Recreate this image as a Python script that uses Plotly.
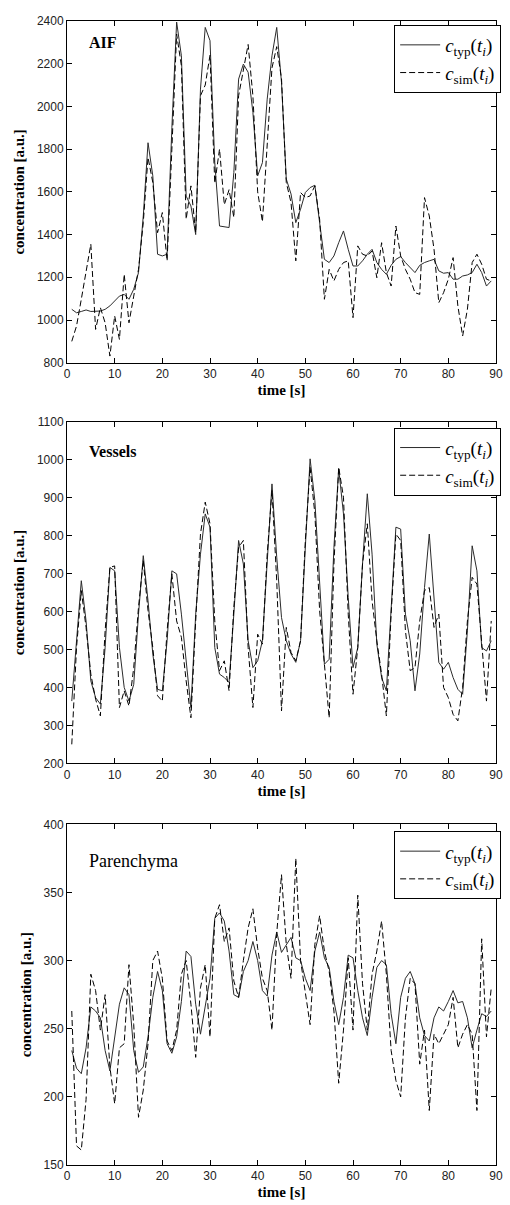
import plotly.graph_objs as go

# time axis [s]
t = list(range(1, 90))

# AIF
aif_typ = [1050, 1034, 1040, 1047, 1040, 1040, 1042, 1050, 1066, 1089,
           1112, 1120, 1097, 1144, 1222, 1487, 1830, 1675, 1308, 1300,
           1308, 1900, 2395, 2237, 1580, 1534, 1400, 2081, 2370, 2308,
           1737, 1440, 1437, 1433, 1690, 2128, 2198, 2160, 1972, 1675,
           1737, 2034, 2237, 2370, 2112, 1660, 1590, 1456, 1519, 1597,
           1620, 1631, 1456, 1284, 1269, 1300, 1362, 1417, 1331, 1253,
           1253, 1277, 1308, 1331, 1269, 1237, 1214, 1256, 1284, 1297,
           1269, 1245, 1222, 1256, 1269, 1277, 1284, 1230, 1219, 1222,
           1191, 1191, 1206, 1211, 1222, 1261, 1222, 1159, 1183]
aif_sim = [900, 972, 1097, 1237, 1355, 956, 1058, 987, 831, 1019,
           909, 1214, 987, 1112, 1237, 1456, 1761, 1644, 1409, 1503,
           1277, 1800, 2339, 2190, 1472, 1628, 1409, 2050, 2100, 2240,
           1640, 1800, 1540, 1610, 1480, 2050, 2180, 2290, 2050, 1600,
           1460, 1850, 2180, 2280, 2130, 1644, 1550, 1277, 1597, 1573,
           1581, 1628, 1472, 1097, 1237, 1183, 1237, 1269, 1277, 1011,
           1347, 1308, 1300, 1323, 1198, 1362, 1222, 1159, 1440, 1300,
           1237, 1191, 1128, 1120, 1573, 1487, 1331, 1081, 1128, 1191,
           1292, 1066, 925, 1050, 1269, 1308, 1261, 1191, 1183]

# Vessels
ves_typ = [364, 523, 681, 575, 417, 373, 356, 505, 716, 707,
           505, 400, 364, 408, 593, 747, 628, 488, 395, 391,
           523, 707, 699, 593, 461, 347, 593, 751, 857, 822,
           505, 435, 426, 413, 593, 787, 725, 523, 452, 470,
           523, 743, 936, 743, 584, 523, 488, 466, 523, 769,
           1002, 892, 663, 461, 474, 769, 976, 857, 637, 452,
           505, 725, 910, 751, 514, 426, 391, 602, 822, 817,
           593, 523, 391, 488, 663, 804, 646, 466, 448, 466,
           426, 395, 382, 549, 773, 707, 505, 496, 523]
ves_sim = [250, 505, 655, 558, 435, 369, 325, 549, 716, 720,
           347, 391, 351, 452, 611, 734, 602, 505, 378, 364,
           549, 699, 575, 532, 417, 320, 575, 804, 888, 831,
           575, 444, 470, 391, 611, 769, 787, 505, 347, 540,
           514, 751, 919, 681, 338, 558, 492, 470, 523, 787,
           980, 857, 602, 452, 320, 725, 980, 901, 593, 382,
           505, 725, 831, 628, 523, 435, 325, 593, 804, 787,
           549, 444, 452, 575, 655, 663, 558, 593, 400, 373,
           329, 312, 400, 575, 690, 672, 505, 364, 575]

# Parenchyma
par_typ = [234, 221, 217, 236, 266, 263, 258, 234, 219, 244,
           268, 280, 275, 234, 218, 222, 244, 273, 292, 278,
           239, 232, 244, 270, 307, 303, 268, 246, 266, 287,
           331, 335, 329, 307, 275, 273, 292, 300, 314, 300,
           278, 274, 304, 321, 306, 312, 317, 302, 300, 287,
           278, 307, 321, 302, 295, 270, 253, 273, 304, 302,
           278, 258, 245, 273, 295, 300, 297, 261, 239, 273,
           287, 292, 283, 258, 245, 241, 258, 266, 263, 270,
           278, 269, 270, 258, 236, 249, 261, 259, 263]
par_sim = [263, 164, 161, 198, 290, 278, 249, 275, 222, 195,
           236, 239, 297, 253, 185, 205, 239, 300, 307, 287,
           241, 234, 249, 290, 300, 268, 229, 280, 297, 244,
           331, 341, 314, 324, 285, 273, 300, 324, 338, 309,
           287, 278, 249, 320, 363, 312, 287, 375, 300, 278,
           253, 312, 333, 307, 292, 263, 210, 249, 302, 249,
           348, 283, 249, 290, 307, 329, 290, 234, 212, 200,
           258, 287, 283, 224, 249, 190, 246, 239, 246, 253,
           273, 236, 246, 253, 246, 190, 316, 244, 280]

panels = [('AIF', True, aif_typ, aif_sim, [800, 2400], 200),
          ('Vessels', True, ves_typ, ves_sim, [200, 1100], 100),
          ('Parenchyma', False, par_typ, par_sim, [150, 400], 50)]

y_domains = [[0.7013, 1.0], [0.3511, 0.6498], [0.0, 0.2978]]
legend_y = [0.9965, 0.6445, 0.2917]
label_pos = [0.936, 0.912, 0.892]

name_typ = '<i>c</i><sub>typ</sub>(<i>t<sub>i</sub></i>)'
name_sim = '<i>c</i><sub>sim</sub>(<i>t<sub>i</sub></i>)'

serif = 'Liberation Serif'
sans = 'Liberation Sans'

fig = go.Figure()
layout = dict(width=510, height=1205,
              margin=dict(l=67, r=7, t=21, b=39),
              paper_bgcolor='white', plot_bgcolor='white',
              showlegend=True, annotations=[])

for i, (title, bold, typ, sim, yrange, dtick) in enumerate(panels):
    n = '' if i == 0 else str(i + 1)
    leg = 'legend' if i == 0 else 'legend' + str(i + 1)
    fig.add_trace(go.Scatter(x=t, y=typ, mode='lines', name=name_typ,
                             line=dict(color='#2b2b2b', width=1),
                             xaxis='x' + n, yaxis='y' + n, legend=leg))
    fig.add_trace(go.Scatter(x=t, y=sim, mode='lines', name=name_sim,
                             line=dict(color='black', width=1, dash='6px,3px'),
                             xaxis='x' + n, yaxis='y' + n, legend=leg))

    axis_common = dict(showline=True, linecolor='black', linewidth=1,
                       mirror='allticks', ticks='inside', ticklen=5,
                       tickcolor='black', showgrid=False, zeroline=False,
                       tickfont=dict(family=sans, size=12, color='#222'))
    layout['xaxis' + n] = dict(axis_common, range=[0, 90], dtick=10,
                               domain=[0, 1], anchor='y' + n,
                               title=dict(text='<b>time [s]</b>', standoff=4,
                                          font=dict(family=serif, size=15,
                                                    color='black')))
    layout['yaxis' + n] = dict(axis_common, range=yrange, dtick=dtick,
                               domain=y_domains[i], anchor='x' + n,
                               title=dict(text='<b>concentration [a.u.]</b>',
                                          standoff=8,
                                          font=dict(family=serif, size=15,
                                                    color='black')))
    layout[leg] = dict(x=1.012, y=legend_y[i], xanchor='right', yanchor='top',
                       bgcolor='white', bordercolor='black', borderwidth=1,
                       font=dict(family=serif, size=19, color='black'),
                       itemwidth=40, tracegroupgap=0)

    # panel label
    text = '<b>%s</b>' % title if bold else title
    layout['annotations'].append(dict(
        text=text, xref='x%s domain' % n, yref='y%s domain' % n,
        x=0.046, y=label_pos[i], xanchor='left', yanchor='middle',
        showarrow=False, font=dict(family=serif, size=18 if not bold else 16,
                                   color='black')))

fig.update_layout(**layout)
fig.write_html('out.html', config={'displayModeBar': False},
               post_script="document.body.style.margin='0';"
                           "document.body.style.padding='0';")
